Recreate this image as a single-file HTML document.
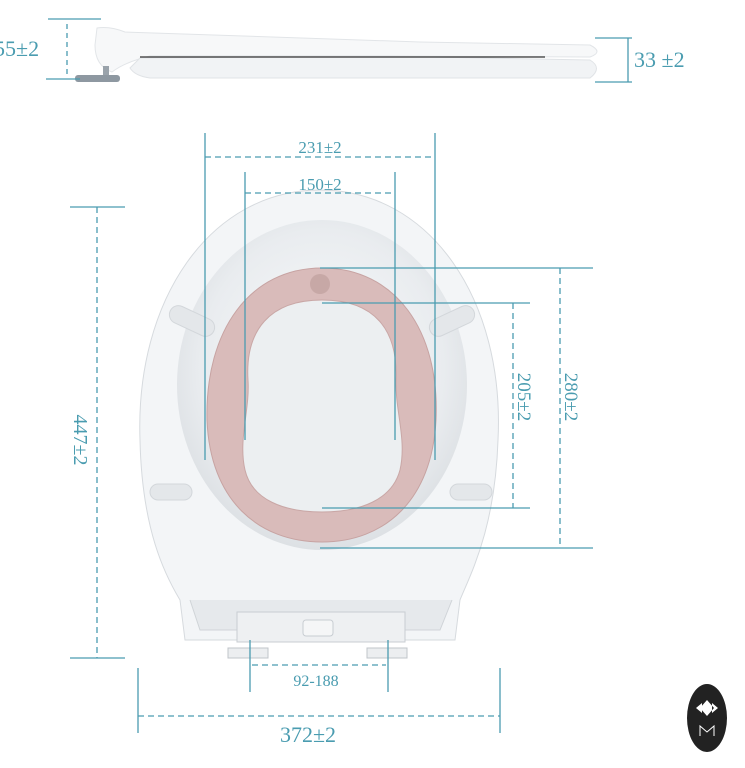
<!DOCTYPE html>
<html><head><style>
html,body{margin:0;padding:0;background:#fff;width:745px;height:768px;overflow:hidden}
text{font-family:"Liberation Serif",serif;fill:#4a9cb0}
</style></head><body>
<svg width="745" height="768" viewBox="0 0 745 768" xmlns="http://www.w3.org/2000/svg">
<defs>
<radialGradient id="lid" cx="50%" cy="45%" r="60%">
<stop offset="0" stop-color="#fafbfc"/><stop offset="0.7" stop-color="#e9ecef"/><stop offset="1" stop-color="#d8dce0"/>
</radialGradient>
</defs>
<!-- side view -->
<path d="M97 28 Q110 26 125 32 L420 42 L590 45 Q604 52 590 57 L380 56 L150 56 Q125 62 112 72 Q95 66 95 45 Z" fill="#f7f8f9" stroke="#e2e5e8"/>
<path d="M140 58 L380 56 L590 60 Q603 68 590 78 L150 78 Q135 76 130 68 Z" fill="#f1f3f5" stroke="#e0e3e6"/>
<line x1="140" y1="57" x2="545" y2="57" stroke="#333" stroke-width="1.3"/>
<rect x="103" y="66" width="6" height="10" fill="#9aa3ab"/>
<rect x="75" y="75" width="45" height="7" rx="3" fill="#8e98a1"/>
<g stroke="#4a9cb0" stroke-width="1.3" fill="none">
<line x1="48" y1="19" x2="101" y2="19"/><line x1="46" y1="79" x2="80" y2="79"/>
<line x1="67" y1="24" x2="67" y2="77" stroke-dasharray="5,4"/>
<line x1="595" y1="38" x2="632" y2="38"/><line x1="595" y1="82" x2="632" y2="82"/>
<line x1="628" y1="38" x2="628" y2="82"/>
</g>
<text x="-6" y="56" font-size="22">55±2</text>
<text x="634" y="67" font-size="22">33 ±2</text>
<!-- seat -->
<path d="M320 190 C430 190 505 300 498 440 C495 530 470 575 460 600 L455 640 L185 640 L180 600 C165 575 142 530 140 440 C135 300 210 190 320 190 Z" fill="#f3f5f7" stroke="#d6dade"/>
<path d="M190 600 L200 630 L440 630 L452 600" fill="#e6e9ec" stroke="#d0d4d8"/>
<rect x="237" y="612" width="168" height="30" fill="#eef0f2" stroke="#c8cdd2"/>
<rect x="303" y="620" width="30" height="16" rx="3" fill="#f5f6f7" stroke="#c8cdd2"/>
<rect x="228" y="648" width="40" height="10" fill="#eceef0" stroke="#c0c5ca"/>
<rect x="367" y="648" width="40" height="10" fill="#eceef0" stroke="#c0c5ca"/>
<ellipse cx="322" cy="385" rx="145" ry="165" fill="url(#lid)"/>
<g fill="#e4e7ea" stroke="#d3d7db">
<rect x="168" y="312" width="48" height="18" rx="9" transform="rotate(25 192 321)"/>
<rect x="428" y="312" width="48" height="18" rx="9" transform="rotate(-25 452 321)"/>
<rect x="150" y="484" width="42" height="16" rx="8"/>
<rect x="450" y="484" width="42" height="16" rx="8"/>
</g>
<path d="M322 268 C395 268 440 330 436 420 C432 500 385 542 322 542 C258 542 210 500 207 420 C205 330 250 268 322 268 Z" fill="#d9bbba" stroke="#c7a3a2"/>
<path d="M322 300 C375 300 398 330 396 380 C395 410 407 440 400 470 C392 500 360 512 322 512 C284 512 252 500 245 470 C238 440 250 410 248 380 C245 330 270 300 322 300 Z" fill="#eceff1" stroke="#c9a7a6"/>
<circle cx="320" cy="284" r="10" fill="#c7a8a6"/>
<g stroke="#4a9cb0" stroke-width="1.3" fill="none">
<line x1="205" y1="133" x2="205" y2="460"/><line x1="435" y1="133" x2="435" y2="460"/>
<line x1="205" y1="157" x2="435" y2="157" stroke-dasharray="6,4"/>
<line x1="245" y1="172" x2="245" y2="440"/><line x1="395" y1="172" x2="395" y2="440"/>
<line x1="245" y1="193" x2="395" y2="193" stroke-dasharray="6,4"/>
<line x1="70" y1="207" x2="125" y2="207"/><line x1="70" y1="658" x2="125" y2="658"/>
<line x1="97" y1="207" x2="97" y2="658" stroke-dasharray="6,4"/>
<line x1="320" y1="268" x2="593" y2="268"/><line x1="320" y1="548" x2="593" y2="548"/>
<line x1="560" y1="268" x2="560" y2="548" stroke-dasharray="6,4"/>
<line x1="322" y1="303" x2="530" y2="303"/><line x1="322" y1="508" x2="530" y2="508"/>
<line x1="513" y1="303" x2="513" y2="508" stroke-dasharray="6,4"/>
<line x1="250" y1="640" x2="250" y2="692"/><line x1="388" y1="640" x2="388" y2="692"/>
<line x1="252" y1="665" x2="386" y2="665" stroke-dasharray="6,4"/>
<line x1="138" y1="668" x2="138" y2="733"/>
<line x1="500" y1="668" x2="500" y2="733"/>
<line x1="138" y1="716" x2="500" y2="716" stroke-dasharray="6,4"/>
</g>
<text x="320" y="153" font-size="17" text-anchor="middle">231±2</text>
<text x="320" y="190" font-size="17" text-anchor="middle">150±2</text>
<text x="316" y="686" font-size="16" text-anchor="middle">92-188</text>
<text x="308" y="742" font-size="22" text-anchor="middle">372±2</text>
<text transform="translate(74 440) rotate(90)" font-size="20" text-anchor="middle">447±2</text>
<text transform="translate(565 397) rotate(90)" font-size="19" text-anchor="middle">280±2</text>
<text transform="translate(518 397) rotate(90)" font-size="19" text-anchor="middle">205±2</text>
<ellipse cx="707" cy="718" rx="20" ry="34" fill="#222"/>
<path d="M707 700 L714 708 L707 716 L700 708 Z M696 708 L702 703 L702 713 Z M718 708 L712 703 L712 713 Z" fill="#fff"/>
<path d="M700 736 L700 726 L707 732 L714 726 L714 736" stroke="#fff" fill="none" stroke-width="1"/>
</svg>
</body></html>
